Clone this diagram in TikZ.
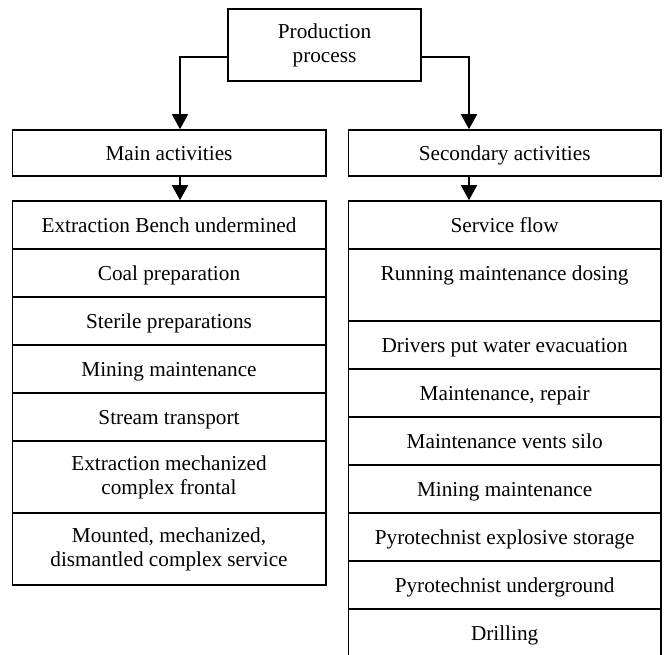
\documentclass[tikz,border=0pt]{standalone}
\usepackage{fontspec}
\setmainfont{Liberation Serif}
\usetikzlibrary{arrows.meta}
\begin{document}
\begin{tikzpicture}[x=1pt,y=-1pt,
  box/.style={draw, line width=1.6pt, rectangle, inner sep=0pt, align=center,
    font=\fontsize{21.25}{24}\selectfont},
  oneline/.style={text height=16.5pt, text depth=1.5pt},
  lcell/.style={box, minimum width=313.4pt, minimum height=48pt},
  rcell/.style={box, minimum width=312.3pt, minimum height=48pt},
  arr/.style={line width=1.6pt, -{Triangle[length=15pt,width=16pt]}}]
\useasboundingbox (0,0) rectangle (667,655);
% header boxes
\node[box, minimum width=193pt, minimum height=72pt] (top) at (324.5,45) {Production\\process};
\node[box, oneline, minimum width=313.4pt, minimum height=46pt] (main) at (169,153) {Main activities};
\node[box, oneline, minimum width=312.3pt, minimum height=46pt] (sec) at (504.65,153) {Secondary activities};
% left column
\node[lcell, oneline] (L1) at (169,225) {Extraction Bench undermined};
\node[lcell, oneline] (L2) at (169,273) {Coal preparation};
\node[lcell, oneline] (L3) at (169,321) {Sterile preparations};
\node[lcell, oneline] (L4) at (169,369) {Mining maintenance};
\node[lcell, oneline] (L5) at (169,417) {Stream transport};
\node[lcell, minimum height=72pt] (L6) at (169,477) {Extraction mechanized\\complex frontal};
\node[lcell, minimum height=72pt] (L7) at (169,549) {Mounted, mechanized,\\dismantled complex service};
% right column
\node[rcell, oneline] (R1) at (504.65,225) {Service flow};
\node[rcell, minimum height=72pt, text height=14pt, text depth=24pt] (R2) at (504.65,285) {Running maintenance dosing};
\node[rcell, oneline] (R3) at (504.65,345) {Drivers put water evacuation};
\node[rcell, oneline] (R4) at (504.65,393) {Maintenance, repair};
\node[rcell, oneline] (R5) at (504.65,441) {Maintenance vents silo};
\node[rcell, oneline] (R6) at (504.65,489) {Mining maintenance};
\node[rcell, oneline] (R7) at (504.65,537) {Pyrotechnist explosive storage};
\node[rcell, oneline] (R8) at (504.65,585) {Pyrotechnist underground};
\node[rcell, oneline] (R9) at (504.65,633) {Drilling};
% connectors
\draw[arr] ([yshift=-12pt]top.west) -| ([xshift=11pt]main.north);
\draw[arr] ([yshift=-12pt]top.east) -| ([xshift=-35.65pt]sec.north);
\draw[arr] ([xshift=11pt]main.south) -- ([xshift=11pt]L1.north);
\draw[arr] ([xshift=-35.65pt]sec.south) -- ([xshift=-35.65pt]R1.north);
\end{tikzpicture}
\end{document}
